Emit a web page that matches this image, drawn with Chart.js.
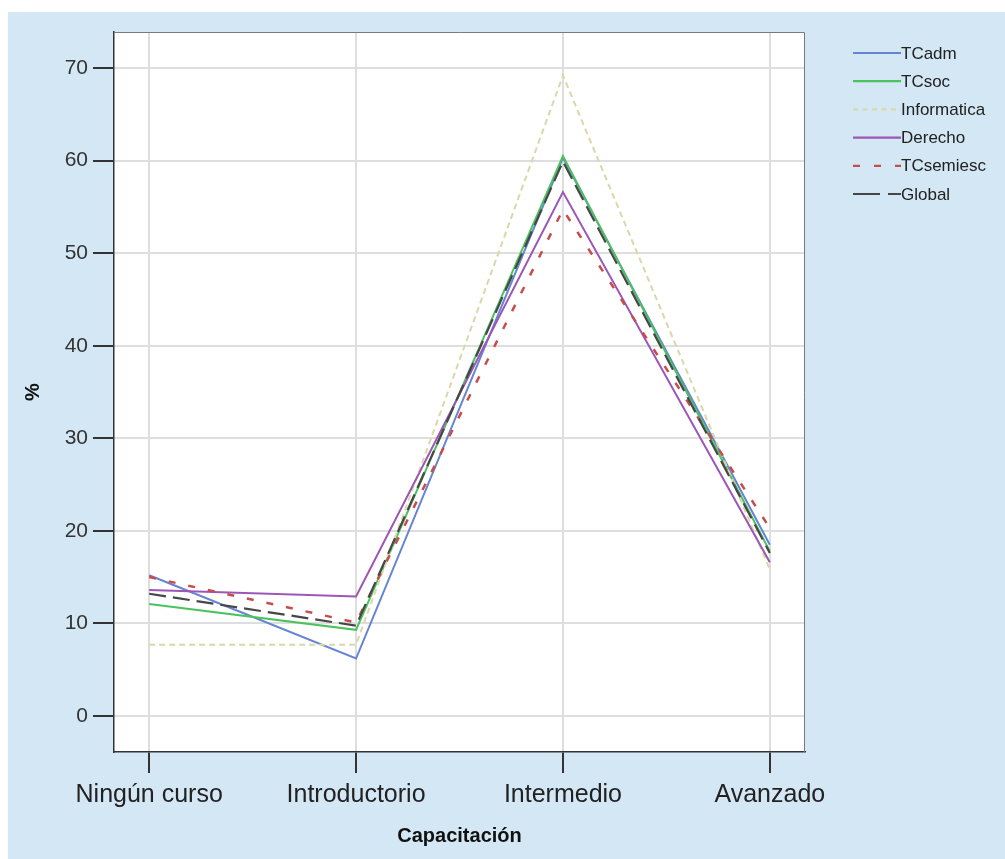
<!DOCTYPE html>
<html>
<head>
<meta charset="utf-8">
<script src="https://cdn.jsdelivr.net/npm/chart.js@4"></script>
<style>
  html, body { margin: 0; padding: 0; background: #fff; }
  #wrap { width: 1005px; height: 859px; position: relative; }
</style>
</head>
<body>
<div id="wrap"><canvas id="chart" width="1005" height="859"></canvas></div>
<script>
// categories and series (percent)
const categories = ['Ningún curso', 'Introductorio', 'Intermedio', 'Avanzado'];
const yTicks = [0, 10, 20, 30, 40, 50, 60, 70];

const tcAdm = [15.2, 6.2, 60.3, 18.5];
const tcSoc = [12.1, 9.3, 60.5, 17.8];
const informatica = [7.7, 7.7, 69.2, 15.8];
const derecho = [13.6, 12.9, 56.6, 16.6];
const tcSemiesc = [15.0, 10.1, 54.7, 20.3];
const global = [13.2, 9.75, 59.9, 17.6];

const FONT = "'Liberation Sans', Arial, sans-serif";

function pts(arr) {
    return arr.map((v, i) => ({ x: i, y: v }));
}

const series = [
    { label: 'TCadm', data: tcAdm, color: '#6585d3', dash: [], legendDash: [], width: 2 },
    { label: 'TCsoc', data: tcSoc, color: '#4cc25f', dash: [], legendDash: [], width: 2 },
    { label: 'Informatica', data: informatica, color: '#dad8a8', dash: [6, 4], legendDash: [5, 4.5], width: 2 },
    { label: 'Derecho', data: derecho, color: '#9b56b6', dash: [], legendDash: [], width: 2 },
    { label: 'TCsemiesc', data: tcSemiesc, color: '#c74d4d', dash: [7, 13], legendDash: [7, 14], width: 2.5 },
    { label: 'Global', data: global, color: '#474747', dash: [17, 7], legendDash: [27, 8], width: 2.2 }
];

// blue panel behind everything + frame on top/right of the plot
const backdrop = {
    id: 'backdrop',
    beforeDraw(chart) {
        const ctx = chart.ctx;
        ctx.save();
        ctx.fillStyle = '#ffffff';
        ctx.fillRect(0, 0, chart.width, chart.height);
        ctx.fillStyle = '#d4e7f5';
        ctx.fillRect(8, 12, chart.width - 8, chart.height - 12);
        const a = chart.chartArea;
        ctx.fillStyle = '#ffffff';
        ctx.fillRect(a.left, a.top, a.right - a.left, a.bottom - a.top);
        ctx.restore();
    },
    afterDraw(chart) {
        const ctx = chart.ctx;
        const a = chart.chartArea;
        ctx.save();
        ctx.strokeStyle = '#7a7a7a';
        ctx.lineWidth = 1;
        ctx.beginPath();
        ctx.moveTo(a.left, a.top + 0.5);
        ctx.lineTo(a.right - 0.5, a.top + 0.5);
        ctx.lineTo(a.right - 0.5, a.bottom);
        ctx.stroke();
        ctx.restore();
    }
};

// legend at the right, built from the datasets
const sideLegend = {
    id: 'sideLegend',
    afterDraw(chart) {
        const ctx = chart.ctx;
        ctx.save();
        ctx.font = '17px ' + FONT;
        ctx.textBaseline = 'middle';
        chart.data.datasets.forEach((ds, i) => {
            const y = 53 + i * 28.2;
            ctx.strokeStyle = ds.borderColor;
            ctx.lineWidth = 2.2;
            ctx.setLineDash(series[i].legendDash);
            ctx.beginPath();
            ctx.moveTo(853, y);
            ctx.lineTo(901, y);
            ctx.stroke();
            ctx.setLineDash([]);
            ctx.fillStyle = '#222';
            ctx.fillText(ds.label, 901, y + 1);
        });
        ctx.restore();
    }
};

new Chart(document.getElementById('chart'), {
    type: 'line',
    data: {
        datasets: series.map((s, i) => ({
            label: s.label,
            data: pts(s.data),
            borderColor: s.color,
            backgroundColor: s.color,
            borderDash: s.dash,
            borderWidth: s.width,
            pointRadius: 0,
            tension: 0,
            fill: false,
            order: -i
        }))
    },
    options: {
        responsive: false,
        animation: false,
        layout: { padding: { left: 14, right: 200, top: 32, bottom: 0 } },
        plugins: {
            legend: { display: false },
            tooltip: { enabled: false }
        },
        scales: {
            x: {
                type: 'linear',
                min: -0.17,
                max: 3.17,
                afterBuildTicks: scale => { scale.ticks = categories.map((c, i) => ({ value: i })); },
                afterFit: scale => { scale.height = 107; },
                grid: { color: '#dedede', lineWidth: 2, tickColor: '#333', tickLength: 21 },
                border: { display: true, color: '#333', width: 1.5 },
                ticks: {
                    callback: v => categories[v],
                    color: '#222',
                    padding: 7,
                    maxRotation: 0,
                    autoSkip: false,
                    font: { family: FONT, size: 25 }
                },
                title: {
                    display: true,
                    text: 'Capacitación',
                    color: '#111',
                    padding: { top: 0, bottom: 11 },
                    font: { family: FONT, size: 20, weight: 'bold' }
                }
            },
            y: {
                min: -3.9,
                max: 73.9,
                afterBuildTicks: scale => { scale.ticks = yTicks.map(v => ({ value: v })); },
                afterFit: scale => { scale.width = 100; },
                grid: { color: '#dedede', lineWidth: 2, tickColor: '#333', tickLength: 21 },
                border: { display: true, color: '#333', width: 1.5 },
                ticks: {
                    color: '#333',
                    padding: 5,
                    font: { family: FONT, size: 21 }
                },
                title: {
                    display: true,
                    text: '%',
                    color: '#111',
                    padding: { top: 7, bottom: 0 },
                    font: { family: FONT, size: 20, weight: 'bold' }
                }
            }
        }
    },
    plugins: [backdrop, sideLegend]
});
</script>
</body>
</html>
